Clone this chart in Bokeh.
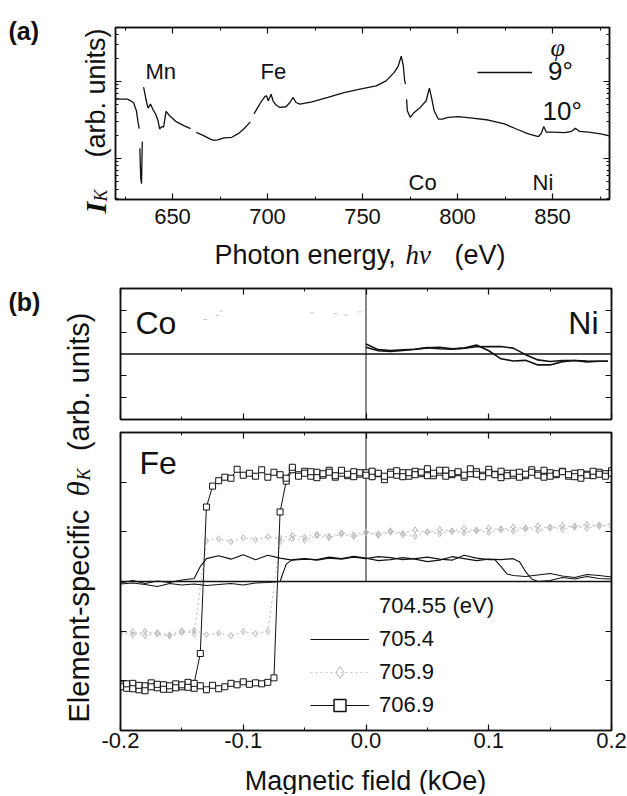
import math
from bokeh.plotting import figure
from bokeh.models import (FixedTicker, LinearAxis, LogAxis, Label, Legend,
                          LegendItem, Range1d, Span, PrintfTickFormatter)
from bokeh.layouts import column
from bokeh.embed import file_html
from bokeh.resources import INLINE

NAN = float("nan")
INK = "#111111"
GREY = "#b8b8b8"
SANS = "Liberation Sans"
SERIF = "Liberation Serif"

# ---------------- panel (a): reflectivity spectrum ----------------
energy_ev = [620.0, 626.3, 629.5, 631.0, 632.0, 632.5, NAN,
             632.8, 633.3, 633.7, 634.1, NAN,
             634.8, 636.2, 637.1, 638.4, 639.6, 641.1, 642.4, 643.2, 644.3, 645.3,
             646.6, 648.5, 651.7, 655.9, 659.5, NAN,
             662.5, 666.4, 669.6, 671.7, 673.8, 677.0, 681.2, 684.4, 687.5, 691.0, NAN,
             692.9, 694.9, 697.0, 698.7, 699.5, 700.4, 701.2, 701.9, 702.9, 704.4,
             706.5, 709.7, 711.8, 713.5, 715.0, 717.1, 723.4, 731.8, 740.3, 748.7,
             757.2, 762.4, 766.6, 768.8, 770.4, 771.5, 772.1, 772.6, NAN,
             773.2, 773.6, 775.1, 777.2, 780.4, 783.5, 785.2, 786.3, 787.7, 789.9,
             792.0, 795.1, 800.4, 807.8, 816.2, 824.7, 831.0, 837.3, 842.6, 844.1,
             845.4, 846.8, 850.0, 856.3, 860.1, 862.0, 864.1, 869.0, 875.3, 880.0]
intensity = [58.7, 58.7, 53.2, 41.6, 28.0, 24.3, NAN,
             13.5, 5.5, 4.7, 16.5, NAN,
             84.0, 56.0, 45.0, 50.7, 43.7, 37.7, 30.9, 24.1, 25.9, 25.4,
             40.7, 35.8, 30.3, 26.6, 24.3, NAN,
             21.8, 19.8, 17.9, 17.1, 17.4, 18.5, 18.8, 20.8, 24.1, 29.8, NAN,
             37.9, 45.9, 56.0, 63.7, 64.9, 56.0, 61.8, 68.2, 56.0, 49.7,
             45.9, 46.8, 53.2, 61.8, 53.2, 50.7, 54.3, 61.8, 71.6, 79.1,
             87.3, 101.4, 129.7, 158.1, 212.8, 158.1, 106.4, 91.8, NAN,
             58.7, 41.6, 34.1, 39.5, 45.9, 56.0, 81.5, 61.8, 41.6, 32.4,
             32.4, 34.1, 34.8, 33.4, 31.5, 28.0, 24.1, 20.8, 19.2, 21.2,
             25.9, 21.9, 21.9, 21.6, 22.5, 24.6, 22.5, 21.9, 20.8, 19.6]
ev_ticks = [650, 700, 750, 800, 850]
ev_minor = [625, 675, 725, 775, 825, 875]
int_major = [10, 100]
int_minor = [3, 4, 5, 6, 7, 8, 9, 20, 30, 40, 50, 60, 70, 80, 90, 200, 300, 400, 500]

# ---------------- panel (b): element-specific loops ----------------
field_ticks = [-0.2, -0.1, 0.0, 0.1, 0.2]
field_minor = [-0.15, -0.05, 0.05, 0.15]
theta_ticks = [-2, -1, 1, 2]

# Ni (upper sub-panel)
ni_field = [0.00, 0.01, 0.02, 0.03, 0.04, 0.05, 0.06, 0.07, 0.08, 0.09, 0.10,
            0.11, 0.12, 0.13, 0.14, 0.15, 0.16, 0.17, 0.18, 0.19, 0.197]
ni_a = [0.46, 0.20, 0.16, 0.19, 0.22, 0.28, 0.31, 0.24, 0.27, 0.41, 0.15,
        -0.22, -0.32, -0.29, -0.50, -0.50, -0.35, -0.30, -0.36, -0.33, -0.33]
ni_b = [0.31, 0.15, 0.12, 0.16, 0.22, 0.29, 0.24, 0.22, 0.27, 0.33, 0.34,
        0.34, 0.27, -0.03, -0.27, -0.34, -0.30, -0.30, -0.32, -0.33, -0.33]
# Co (faint specks)
co_field = [-0.131, -0.121, -0.118, -0.044, -0.025, -0.016, -0.005]
co_val = [1.58, 1.77, 1.97, 1.88, 1.85, 1.78, 1.93]

# Fe 706.9 eV (squares), two sweeps
fe_field = [-0.200, -0.195, -0.190, -0.185, -0.180, -0.175, -0.170, -0.165, -0.160,
            -0.155, -0.150, -0.145, -0.140, -0.135, -0.130, -0.125, -0.120, -0.115,
            -0.110, -0.105, -0.100, -0.095, -0.090, -0.085, -0.080, -0.075, -0.070,
            -0.065, -0.060, -0.055, -0.050, -0.045, -0.040, -0.035, -0.030, -0.025,
            -0.020, -0.015, -0.010, -0.005, 0.000, 0.005, 0.010, 0.015, 0.020,
            0.025, 0.030, 0.035, 0.040, 0.045, 0.050, 0.055, 0.060, 0.065, 0.070,
            0.075, 0.080, 0.085, 0.090, 0.095, 0.100, 0.105, 0.110, 0.115, 0.120,
            0.125, 0.130, 0.135, 0.140, 0.145, 0.150, 0.155, 0.160, 0.165, 0.170,
            0.175, 0.180, 0.185, 0.190, 0.195, 0.200]
fe69_up = [-2.08, -2.15, -2.05, -2.18, -2.10, -2.04, -2.14, -2.08, -2.17, -2.06,
           -2.12, -2.03, -2.15, -2.10, -2.18, -2.09, -2.16, -2.12, -2.05, -2.08,
           -2.02, -2.07, -2.04, -2.06, -2.03, -1.94, 1.40, 2.02, 2.25,
           2.15, 2.22, 2.12, 2.20, 2.14, 2.24, 2.10, 2.18, 2.13, 2.21,
           2.16, 2.19, 2.11, 2.17, 2.05, 2.20, 2.14, 2.19, 2.12, 2.22,
           2.17, 2.27, 2.13, 2.20, 2.24, 2.15, 2.19, 2.10, 2.17, 2.21,
           2.14, 2.26, 2.16, 2.09, 2.18, 2.14, 2.20, 2.13, 2.25, 2.17,
           2.10, 2.19, 2.15, 2.22, 2.12, 2.18, 2.08, 2.16, 2.13, 2.20,
           2.17, 2.23]
fe69_down = [-2.12, -2.06, -2.16, -2.09, -2.20, -2.12, -2.07, -2.17, -2.10, -2.14,
             -2.08, -2.13, -2.05, -1.45, 1.50, 1.92, 2.03, 2.10, 2.08, 2.26,
             2.14, 2.18, 2.12, 2.25, 2.10, 2.20, 2.15, 2.08, 2.30, 2.12,
             2.18, 2.21, 2.09, 2.17, 2.20, 2.13, 2.24, 2.16, 2.11, 2.19,
             2.14, 2.22, 2.18, 2.12, 2.16, 2.23, 2.11, 2.19, 2.15, 2.20,
             2.13, 2.18, 2.24, 2.12, 2.17, 2.21, 2.14, 2.27, 2.16, 2.11,
             2.19, 2.15, 2.22, 2.13, 2.18, 2.10, 2.16, 2.20, 2.14, 2.24,
             2.12, 2.17, 2.21, 2.15, 2.11, 2.19, 2.14, 2.22, 2.16, 2.12,
             2.18]

# Fe 705.9 eV (grey), two sweeps
gr_field = [-0.20, -0.19, -0.18, -0.17, -0.16, -0.15, -0.14, -0.13, -0.12, -0.11,
            -0.10, -0.09, -0.08, -0.07, -0.06, -0.05, -0.04, -0.03, -0.02, -0.01,
            0.00, 0.01, 0.02, 0.03, 0.04, 0.05, 0.06, 0.07, 0.08, 0.09, 0.10,
            0.11, 0.12, 0.13, 0.14, 0.15, 0.16, 0.17, 0.18, 0.19, 0.20]
fe59_up = [-1.02, -1.08, -1.00, -1.06, -1.10, -1.03, -0.98, -1.07, -1.04, -1.09,
           -1.01, -1.05, -1.00, 0.80, 0.86, 0.83, 0.92, 0.88, 0.95, 0.90,
           0.97, 0.93, 0.99, 0.94, 0.91, 1.00, 0.96, 1.02, 0.98, 1.04, 0.99,
           1.06, 1.01, 1.08, 1.03, 1.10, 1.05, 1.12, 1.07, 1.14, 1.10]
fe59_down = [-1.06, -1.01, -1.09, -1.03, -1.07, -0.99, -1.05, 0.82, 0.86, 0.80,
             0.88, 0.84, 0.90, 0.87, 0.93, 0.89, 0.95, 0.91, 0.98, 0.94,
             1.00, 0.96, 1.02, 0.97, 1.04, 0.99, 1.05, 1.01, 1.07, 1.02, 1.08,
             1.04, 1.10, 1.06, 1.12, 1.07, 1.13, 1.09, 1.15, 1.11, 1.16]

# Fe 705.4 eV (thin black), two sweeps
fe54a_field = [-0.20, -0.19, -0.18, -0.17, -0.16, -0.15, -0.14, -0.135,
               -0.13, -0.12, -0.11, -0.10, -0.09, -0.08, -0.07, -0.06, -0.05,
               -0.04, -0.03, -0.02, -0.01, 0.00, 0.01, 0.02, 0.03, 0.04, 0.05,
               0.06, 0.07, 0.08, 0.09, 0.10, 0.11, 0.12, 0.125, 0.13, 0.135,
               0.14, 0.15, 0.16, 0.17, 0.18, 0.19, 0.20]
fe54a = [-0.03, 0.02, -0.04, 0.01, -0.02, 0.03, 0.06, 0.30,
         0.46, 0.52, 0.45, 0.54, 0.44, 0.53, 0.47, 0.43, 0.45,
         0.44, 0.49, 0.46, 0.51, 0.47, 0.42, 0.44, 0.48, 0.45, 0.40,
         0.43, 0.50, 0.46, 0.42, 0.45, 0.44, 0.46, 0.40, 0.20, 0.05,
         0.00, 0.02, 0.08, 0.05, 0.10, 0.06, 0.05]
fe54b_field = [-0.20, -0.19, -0.18, -0.17, -0.16, -0.15, -0.14, -0.13, -0.12,
               -0.11, -0.10, -0.09, -0.08, -0.07, -0.065, -0.06, -0.05, -0.04,
               -0.03, -0.02, -0.01, 0.00, 0.01, 0.02, 0.03, 0.04, 0.05, 0.06,
               0.07, 0.08, 0.09, 0.10, 0.105, 0.11, 0.115, 0.12, 0.13, 0.14,
               0.15, 0.16, 0.17, 0.18, 0.19, 0.20]
fe54b = [-0.05, -0.03, -0.06, -0.10, -0.04, -0.07, -0.05, -0.08, -0.06,
         -0.04, -0.07, -0.03, -0.02, 0.00, 0.35, 0.44, 0.46, 0.43,
         0.47, 0.45, 0.49, 0.46, 0.50, 0.48, 0.44, 0.46, 0.49, 0.45,
         0.43, 0.53, 0.47, 0.44, 0.44, 0.30, 0.15, 0.12, 0.10, 0.13,
         0.16, 0.11, 0.08, 0.14, 0.12, 0.09]

FE_VLINE_TOP = 3.0   # the x = 0 guide in the Fe panel runs from 0 to the top

W = 627
H_A, H_B1, H_B2 = 280, 146, 368
H_ALL = H_A + H_B1 + H_B2
ROT = math.pi / 2


def style_axis(ax, show_labels, size="22px", standoff=6):
    ax.axis_line_color = INK
    ax.axis_line_width = 1.5
    ax.major_tick_line_color = INK
    ax.minor_tick_line_color = INK
    ax.major_tick_line_width = 1.2
    ax.minor_tick_line_width = 1.0
    ax.major_tick_in = 6
    ax.major_tick_out = 0
    ax.minor_tick_in = 3
    ax.minor_tick_out = 0
    ax.axis_label = None
    if show_labels:
        ax.major_label_text_font = SANS
        ax.major_label_text_font_size = size
        ax.major_label_text_color = INK
        ax.major_label_standoff = standoff
    else:
        ax.formatter = PrintfTickFormatter(format="%d")
        ax.major_label_text_font_size = "1px"
        ax.major_label_text_color = None
        ax.major_label_standoff = 0


def base_fig(h, xr, yr, left, right, top, bottom, ytype="linear"):
    p = figure(width=W, height=h, x_range=xr, y_range=yr, y_axis_type=ytype,
               output_backend="svg", toolbar_location=None, frame_align=False,
               min_border_left=left, min_border_right=right,
               min_border_top=top, min_border_bottom=bottom)
    p.xgrid.visible = False
    p.ygrid.visible = False
    p.outline_line_color = INK
    p.outline_line_width = 1.5
    p.background_fill_color = "white"
    p.border_fill_color = "white"
    return p


def mirror(p, xticker, yticker, ycls=LinearAxis, xlabels=False, xsize="22px", xstand=6):
    bottom = p.below[0]
    left = p.left[0]
    bottom.ticker = xticker
    left.ticker = yticker
    top = LinearAxis(ticker=xticker)
    right = ycls(ticker=yticker)
    p.add_layout(top, "above")
    p.add_layout(right, "right")
    style_axis(bottom, xlabels, xsize, xstand)
    style_axis(left, False)
    style_axis(top, False)
    style_axis(right, False)


# ---------- figure (a): frame x 115..609, y 27..199 ----------
pa = base_fig(H_A, Range1d(620, 880), Range1d(2.93, 500), 115, W - 609, 27, H_A - 199, ytype="log")
mirror(pa, FixedTicker(ticks=ev_ticks, minor_ticks=ev_minor),
       FixedTicker(ticks=int_major, minor_ticks=int_minor), ycls=LogAxis,
       xlabels=True, xsize="22px", xstand=9)
r_spec = pa.line(energy_ev, intensity, line_color=INK, line_width=1.3)
leg_a = Legend(items=[LegendItem(label="9\u00b0", renderers=[r_spec])],
               location=(477 - 115, 199 - 87), padding=0, margin=0,
               glyph_width=55, glyph_height=30, label_height=30, label_standoff=16,
               label_text_font=SANS, label_text_font_size="26px", label_text_color=INK,
               border_line_alpha=0, background_fill_alpha=0)
pa.add_layout(leg_a)

# ---------- figure (b) top: Co / Ni, frame x 120..611, y 288..419 ----------
pb1 = base_fig(H_B1, Range1d(-0.2, 0.2), Range1d(-3, 3), 120, W - 611, 288 - H_A, H_A + H_B1 - 419)
mirror(pb1, FixedTicker(ticks=field_ticks, minor_ticks=field_minor),
       FixedTicker(ticks=theta_ticks))
pb1.add_layout(Span(location=0, dimension="width", line_color=INK, line_width=1.3))
pb1.add_layout(Span(location=0, dimension="height", line_color=INK, line_width=1.0))
pb1.scatter(co_field, co_val, marker="dash", size=4, line_color="#c8c8c8", line_width=1)
pb1.line(ni_field, ni_a, line_color=INK, line_width=1.6)
pb1.line(ni_field, ni_b, line_color=INK, line_width=1.6)

# ---------- figure (b) bottom: Fe, frame x 120..611, y 432..730 ----------
top_b2 = H_A + H_B1
pb2 = base_fig(H_B2, Range1d(-0.2, 0.2), Range1d(-3, 3), 120, W - 611, 432 - top_b2, top_b2 + H_B2 - 730)
mirror(pb2, FixedTicker(ticks=field_ticks, minor_ticks=field_minor),
       FixedTicker(ticks=theta_ticks), xlabels=True, xsize="22px", xstand=2)
pb2.below[0].formatter = PrintfTickFormatter(format="%.1f")
pb2.add_layout(Span(location=0, dimension="width", line_color=INK, line_width=1.3))
pb2.segment(x0=[0.0], y0=[0.0], x1=[0.0], y1=[FE_VLINE_TOP], line_color=INK, line_width=1.0)

r_gr = pb2.line(gr_field, fe59_up, line_color="#c4c4c4", line_dash="2 3", line_width=1.2)
pb2.line(gr_field, fe59_down, line_color="#c4c4c4", line_dash="2 3", line_width=1.2)
pb2.scatter(gr_field, fe59_up, marker="diamond", size=6, fill_color=None, line_color=GREY)
pb2.scatter(gr_field, fe59_down, marker="diamond", size=6, fill_color=None, line_color=GREY)

r_54 = pb2.line(fe54a_field, fe54a, line_color=INK, line_width=1.1)
pb2.line(fe54b_field, fe54b, line_color=INK, line_width=1.1)

r_69 = pb2.line(fe_field, fe69_up, line_color=INK, line_width=1.0)
pb2.line(fe_field, fe69_down, line_color=INK, line_width=1.0)
pb2.scatter(fe_field, fe69_up, marker="square", size=6, fill_color="white", line_color=INK, line_width=1)
pb2.scatter(fe_field, fe69_down, marker="square", size=6, fill_color="white", line_color=INK, line_width=1)

# legend-only glyphs (kept outside the visible y range)
r_blank = pb2.line([0.0, 0.0], [10.0, 10.0], line_alpha=0)
r_gr_key = pb2.scatter([0.0], [10.0], marker="diamond", size=9, fill_color=None, line_color=GREY)
r_sq_key = pb2.scatter([0.0], [10.0], marker="square", size=10, fill_color="white", line_color=INK, line_width=1.5)

leg_b = Legend(items=[LegendItem(label="704.55 (eV)", renderers=[r_blank]),
                      LegendItem(label="705.4", renderers=[r_54]),
                      LegendItem(label="705.9", renderers=[r_gr, r_gr_key]),
                      LegendItem(label="706.9", renderers=[r_69, r_sq_key])],
               location=(310 - 120, 730 - 720), padding=0, margin=0, spacing=3,
               glyph_width=59, glyph_height=30, label_height=30, label_standoff=10,
               label_text_font=SANS, label_text_font_size="22px", label_text_color=INK,
               border_line_alpha=0, background_fill_alpha=0)
pb2.add_layout(leg_b)

# ---------- transparent text layer over the whole page (page pixels) ----------
tf = figure(width=W, height=H_ALL, x_range=Range1d(0, W), y_range=Range1d(H_ALL, 0),
            output_backend="svg", toolbar_location=None, min_border=0, frame_align=False,
            x_axis_location=None, y_axis_location=None,
            margin=(-H_ALL, 0, 0, 0))
tf.outline_line_color = None
tf.background_fill_alpha = 0
tf.border_fill_alpha = 0
tf.xgrid.visible = False
tf.ygrid.visible = False


def txt(text, x, y, size, font=SANS, style="normal", align="left", angle=0.0):
    tf.add_layout(Label(x=x, y=y, text=text, text_font=font, text_font_size=size,
                        text_font_style=style, text_align=align,
                        text_baseline="alphabetic", angle=angle, text_color=INK))


# panel (a)
txt("(a)", 8, 30, "25px", style="bold")
txt("Mn", 145, 71, "22px")
txt("Fe", 260, 71, "22px")
txt("Co", 408, 182, "22px")
txt("Ni", 532, 182, "22px")
txt("\u03c6", 550, 47, "26px", font=SERIF, style="italic")
txt("10\u00b0", 542, 110, "26px")
txt("Photon energy,", 214, 254, "27px")
txt("h\u03bd", 405, 254, "27px", font=SERIF, style="italic")
txt("(eV)", 505, 254, "27px", align="right")
txt("I", 95, 213, "30px", font=SERIF, style="bold italic", angle=ROT)
txt("K", 100, 201, "18px", font=SERIF, style="italic", angle=ROT)
txt("(arb. units)", 95, 28, "27px", align="right", angle=ROT)

# panel (b)
txt("(b)", 8, 301, "25px", style="bold")
txt("Co", 135, 322, "32px")
txt("Ni", 598, 322, "32px", align="right")
txt("Fe", 139, 462, "32px")
txt("Magnetic field (kOe)", 365, 780, "27px", align="center")
txt("Element-specific", 78, 722, "29px", angle=ROT)
txt("\u03b8", 78, 496, "31px", font=SERIF, style="italic", angle=ROT)
txt("K", 83, 480, "18px", font=SERIF, style="italic", angle=ROT)
txt("(arb. units)", 78, 312, "29px", align="right", angle=ROT)

layout = column(pa, pb1, pb2, tf)
open("out.html", "w").write(file_html(layout, INLINE))
